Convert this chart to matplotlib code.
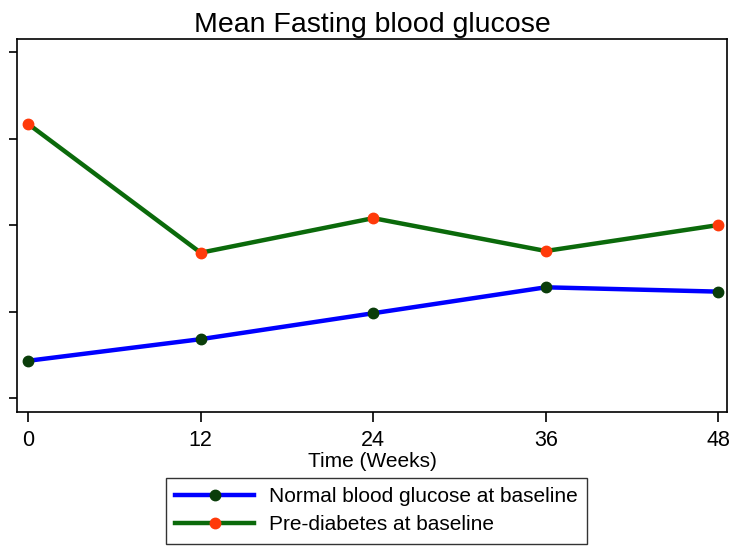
import matplotlib.pyplot as plt

plt.rcParams['font.family'] = ['Liberation Sans', 'DejaVu Sans']

# Data (y axis has no labels, values are on an arbitrary scale)
weeks = [0, 12, 24, 36, 48]
normal_glucose = [82.15, 83.4, 84.9, 86.4, 86.15]
prediabetes = [95.85, 88.4, 90.4, 88.5, 90.0]
y_ticks = [80, 85, 90, 95, 100]

fig = plt.figure(figsize=(7.41, 5.52), dpi=100)
ax = fig.add_axes([0.023, 0.254, 0.958, 0.675])

ax.plot(weeks, normal_glucose, color='#0000ff', linewidth=3.2, marker='o',
        markersize=7.5, markerfacecolor='#0a3d0a', markeredgecolor='#0a3d0a',
        label='Normal blood glucose at baseline')
ax.plot(weeks, prediabetes, color='#0b6a0b', linewidth=3.2, marker='o',
        markersize=7.5, markerfacecolor='#ff3a0a', markeredgecolor='#ff3a0a',
        label='Pre-diabetes at baseline')

ax.set_xlim(-0.77, 48.6)
ax.set_ylim(79.2, 100.75)
ax.set_xticks(weeks)
ax.set_yticks(y_ticks)
ax.set_yticklabels([])
ax.tick_params(axis='x', labelsize=15.5, length=7, width=1.2, pad=6)
ax.tick_params(axis='y', length=6, width=1.2)
for s in ax.spines.values():
    s.set_linewidth(1.2)
    s.set_color('black')

ax.set_xlabel('Time (Weeks)', fontsize=15, labelpad=1)
ax.set_title('Mean Fasting blood glucose', fontsize=20.5, pad=5)

fig.legend(loc='center', bbox_to_anchor=(0.508, 0.925 - 0.85), fontsize=15,
           frameon=True, fancybox=False, edgecolor='#333333', framealpha=1,
           handlelength=3.8, handletextpad=0.7, borderpad=0.45, labelspacing=0.45,
           borderaxespad=0)

plt.savefig('out.png')
plt.close()
